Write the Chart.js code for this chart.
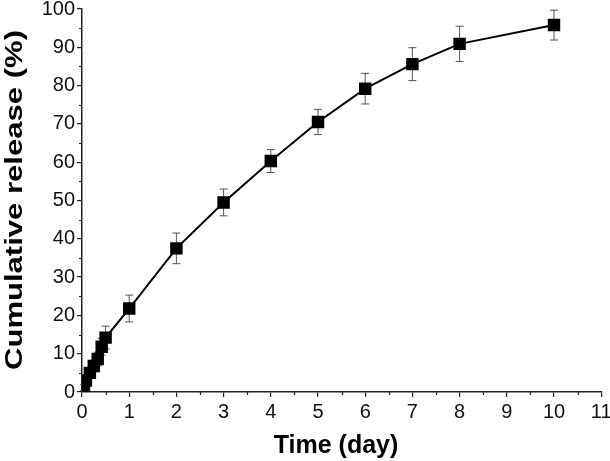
<!DOCTYPE html>
<html>
<head>
<meta charset="utf-8">
<script src="https://cdn.jsdelivr.net/npm/chart.js@4"></script>
<style>
  html, body { margin: 0; padding: 0; background: #fff; }
</style>
</head>
<body>
<canvas id="chart" width="610" height="461"></canvas>
<script>
// sampling times in days (first points are hours: 1, 2, 4, 6, 8, 10, 12 h)
let timeDays = [0.042, 0.083, 0.167, 0.25, 0.333, 0.417, 0.5, 1, 2, 3, 4, 5, 6, 7, 8, 10];
let releasePct = [1.2, 3.0, 5.0, 6.8, 8.6, 11.8, 14.2, 21.8, 37.5, 49.5, 60.3, 70.5, 79.2, 85.6, 90.9, 95.8];
let errorPct = [0.8, 1.0, 1.2, 1.5, 1.8, 2.2, 3.0, 3.5, 4.0, 3.5, 3.0, 3.3, 4.0, 4.3, 4.6, 3.9];

let xTitle = 'Time (day)';
let yTitle = 'Cumulative release (%)';

let fontFamily = "'Liberation Sans', Arial, sans-serif";

let points = timeDays.map((t, i) => ({ x: t, y: releasePct[i] }));

let extras = {
    id: 'extras',
    beforeDatasetsDraw(chart) {
        let ctx = chart.ctx;
        let xs = chart.scales.x, ys = chart.scales.y;
        ctx.save();
        ctx.strokeStyle = '#555';
        ctx.lineWidth = 1;
        for (let i = 0; i < timeDays.length; i++) {
            let px = xs.getPixelForValue(timeDays[i]);
            let top = ys.getPixelForValue(releasePct[i] + errorPct[i]);
            let bot = ys.getPixelForValue(releasePct[i] - errorPct[i]);
            ctx.beginPath();
            ctx.moveTo(px, top); ctx.lineTo(px, bot);
            ctx.moveTo(px - 4, top); ctx.lineTo(px + 4, top);
            ctx.moveTo(px - 4, bot); ctx.lineTo(px + 4, bot);
            ctx.stroke();
        }
        ctx.restore();
    },
    afterDraw(chart) {
        let ctx = chart.ctx;
        let xs = chart.scales.x, ys = chart.scales.y;
        let area = chart.chartArea;
        ctx.save();
        // minor ticks
        ctx.strokeStyle = '#222';
        ctx.lineWidth = 1.2;
        ctx.beginPath();
        for (let v = 0.5; v < 11; v += 1) {
            let px = Math.round(xs.getPixelForValue(v)) + 0.5;
            ctx.moveTo(px, area.bottom); ctx.lineTo(px, area.bottom + 3);
        }
        for (let v = 5; v < 100; v += 10) {
            let py = Math.round(ys.getPixelForValue(v)) + 0.5;
            ctx.moveTo(area.left, py); ctx.lineTo(area.left - 3, py);
        }
        ctx.stroke();

        // axis titles
        ctx.fillStyle = '#000';
        ctx.textAlign = 'center';
        ctx.textBaseline = 'middle';
        ctx.font = 'bold 24px ' + fontFamily;
        ctx.save();
        ctx.translate(15, 200);
        ctx.rotate(-Math.PI / 2);
        let w = ctx.measureText(yTitle).width;
        ctx.scale(340 / w, 1);
        ctx.fillText(yTitle, 0, 0);
        ctx.restore();

        ctx.font = 'bold 25px ' + fontFamily;
        ctx.textBaseline = 'alphabetic';
        ctx.fillText(xTitle, 336, 453);
        ctx.restore();
    }
};

let ctx = document.getElementById('chart').getContext('2d');

let chart = new Chart(ctx, {
    type: 'scatter',
    data: {
        datasets: [{
            data: points,
            showLine: true,
            borderColor: '#000',
            borderWidth: 2,
            backgroundColor: '#000',
            pointStyle: 'rect',
            pointRadius: 8.8,
            pointBorderWidth: 0,
            pointHoverRadius: 8.8
        }]
    },
    plugins: [extras],
    options: {
        responsive: false,
        animation: false,
        devicePixelRatio: 1,
        layout: { padding: { left: 0, right: 8, top: 9, bottom: 0 } },
        plugins: {
            legend: { display: false },
            tooltip: { enabled: false }
        },
        scales: {
            x: {
                type: 'linear',
                min: 0,
                max: 11,
                ticks: {
                    stepSize: 1,
                    color: '#111',
                    padding: 3,
                    maxRotation: 0,
                    font: { family: fontFamily, size: 20 }
                },
                grid: {
                    drawOnChartArea: false,
                    drawTicks: true,
                    tickLength: 5,
                    color: '#222',
                    lineWidth: 1.2
                },
                border: { display: true, color: '#222', width: 1.5 },
                afterFit(scale) {
                    scale.height = 69;
                    scale.paddingLeft = 0;
                    scale.paddingRight = 0;
                }
            },
            y: {
                type: 'linear',
                min: 0,
                max: 100,
                ticks: {
                    stepSize: 10,
                    color: '#111',
                    padding: 2,
                    font: { family: fontFamily, size: 20 }
                },
                grid: {
                    drawOnChartArea: false,
                    drawTicks: true,
                    tickLength: 5,
                    color: '#222',
                    lineWidth: 1.2
                },
                border: { display: true, color: '#222', width: 1.5 },
                afterFit(scale) {
                    scale.width = 82;
                    scale.paddingTop = 0;
                    scale.paddingBottom = 0;
                }
            }
        }
    }
});
</script>
</body>
</html>
